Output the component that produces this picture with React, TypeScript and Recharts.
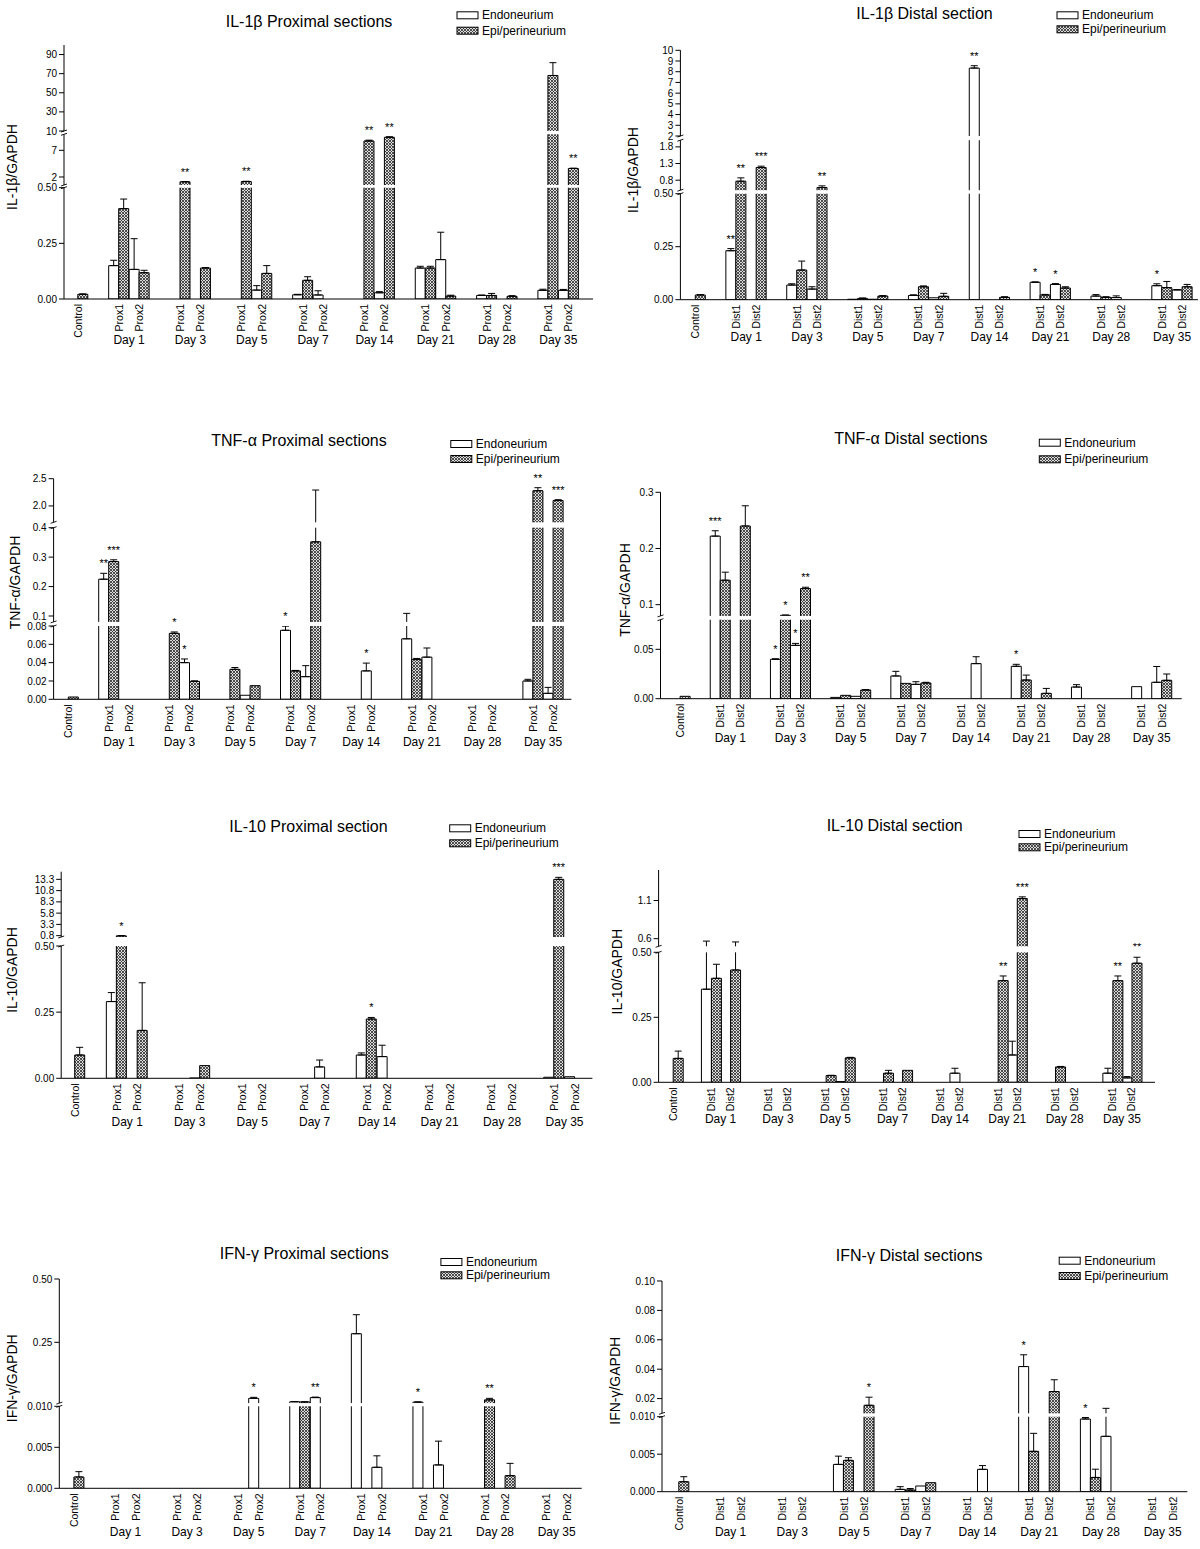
import React from "react"
import { BarChart, Bar, XAxis, YAxis, ErrorBar, LabelList } from "recharts"

const FONT = '"Liberation Sans", Arial, Helvetica, sans-serif'
const _ = null

const days = ["Day 1", "Day 3", "Day 5", "Day 7", "Day 14", "Day 21", "Day 28", "Day 35"]

// order of every series: Control, D1-1, D1-2, D3-1, D3-2, D5-1, D5-2, D7-1, D7-2,
// D14-1, D14-2, D21-1, D21-2, D28-1, D28-2, D35-1, D35-2

// IL-1β proximal
const il1bProxEndo = [_, 0.15, 0.133, _, _, _, 0.04, 0.019, 0.018, _, 0.028, 0.139, 0.177, 0.016, _, 0.039, 0.039]
const il1bProxEndoErr = [_, 0.024, 0.138, _, _, _, 0.02, 0.002, 0.019, _, 0.005, 0.008, 0.123, 0.002, _, 0.005, 0.004]
const il1bProxEndoSig = ["", "", "", "", "", "", "", "", "", "", "", "", "", "", "", "", ""]
const il1bProxEpi = [0.021, 0.406, 0.118, 1.1, 0.139, 1.15, 0.115, 0.084, _, 8.75, 9.44, 0.139, 0.013, 0.016, 0.012, 68.1, 3.6]
const il1bProxEpiErr = [0.002, 0.043, 0.011, 0.05, 0.002, 0.05, 0.035, 0.016, _, 0.15, 0.1, 0.008, 0.004, 0.009, 0.003, 13.4, 0.05]
const il1bProxEpiSig = ["", "", "", "**", "", "**", "", "", "", "**", "**", "", "", "", "", "", "**"]

// IL-1β distal
const il1bDistEndo = [_, 0.231, _, 0.069, 0.05, 0.002, 0.002, 0.02, 0.009, 8.34, _, 0.082, 0.072, 0.017, 0.01, 0.066, 0.046]
const il1bDistEndoErr = [_, 0.01, _, 0.006, 0.011, _, _, 0.003, _, 0.22, _, 0.002, 0.004, 0.007, 0.008, 0.009, 0.002]
const il1bDistEndoSig = ["", "**", "", "", "", "", "", "", "", "**", "", "*", "*", "", "", "*", ""]
const il1bDistEpi = [0.022, 0.77, 1.18, 0.14, 0.58, 0.006, 0.017, 0.061, 0.016, _, 0.011, 0.022, 0.055, 0.011, _, 0.057, 0.061]
const il1bDistEpiErr = [0.002, 0.1, 0.04, 0.042, 0.05, 0.002, 0.002, 0.004, 0.014, _, 0.003, 0.003, 0.006, 0.003, _, 0.029, 0.011]
const il1bDistEpiSig = ["", "**", "***", "", "**", "", "", "", "", "", "", "", "", "", "", "", ""]

// TNF-α proximal
const tnfProxEndo = [_, 0.225, _, _, 0.04, _, 0.0044, 0.0753, 0.0247, _, 0.031, 0.066, 0.046, _, _, 0.02, 0.0065]
const tnfProxEndoErr = [_, 0.02, _, _, 0.004, _, _, 0.0045, 0.012, _, 0.0085, 0.043, 0.01, _, _, 0.0018, 0.0065]
const tnfProxEndoSig = ["", "**", "", "", "*", "", "", "*", "", "", "*", "", "", "", "", "", ""]
const tnfProxEpi = [0.0025, 0.285, _, 0.072, 0.0196, 0.0327, 0.0149, 0.031, 0.352, _, _, 0.0436, _, _, _, 2.28, 2.1]
const tnfProxEpiErr = [_, 0.006, _, 0.0015, 0.0005, 0.002, _, 0.0005, 1.94, _, _, 0.001, _, _, _, 0.055, 0.015]
const tnfProxEpiSig = ["", "***", "", "*", "", "", "", "", "", "", "", "", "", "", "", "**", "***"]

// TNF-α distal
const tnfDistEndo = [_, 0.222, _, 0.0399, 0.054, 0.0013, 0.0024, 0.023, 0.0145, _, 0.0355, 0.0328, _, 0.0118, _, 0.0122, 0.0166]
const tnfDistEndoErr = [_, 0.0095, _, 0.0005, 0.002, _, _, 0.0047, 0.0027, _, 0.007, 0.002, _, 0.0024, _, _, 0.016]
const tnfDistEndoSig = ["", "***", "", "*", "*", "", "", "", "", "", "", "*", "", "", "", "", ""]
const tnfDistEpi = [0.0024, 0.1435, 0.24, 0.081, 0.1286, 0.0034, 0.0088, 0.0155, 0.0159, _, _, 0.0189, 0.0054, _, _, _, 0.0186]
const tnfDistEpiErr = [_, 0.0143, 0.036, 0.0005, 0.0024, _, 0.0003, _, 0.0007, _, _, 0.005, 0.005, _, _, _, 0.0064]
const tnfDistEpiSig = ["", "", "", "*", "**", "", "", "", "", "", "", "", "", "", "", "", ""]

// IL-10 proximal
const il10ProxEndo = [_, 0.29, _, _, 0.001, _, _, _, 0.043, 0.088, 0.082, _, _, _, _, 0.004, 0.006]
const il10ProxEndoErr = [_, 0.034, _, _, _, _, _, _, 0.026, 0.008, 0.043, _, _, _, _, _, _]
const il10ProxEndoSig = ["", "", "", "", "", "", "", "", "", "", "", "", "", "", "", "", ""]
const il10ProxEpi = [0.088, 0.75, 0.181, _, 0.048, _, _, _, _, 0.224, _, _, _, _, _, 13.3, _]
const il10ProxEpiErr = [0.029, 0.05, 0.18, _, _, _, _, _, _, 0.006, _, _, _, _, _, 0.45, _]
const il10ProxEpiSig = ["", "*", "", "", "", "", "", "", "", "*", "", "", "", "", "", "***", ""]

// IL-10 distal
const il10DistEndo = [_, 0.358, _, _, _, _, 0.003, _, _, _, 0.035, _, 0.105, _, _, 0.035, 0.017]
const il10DistEndoErr = [_, 0.21, _, _, _, _, _, _, _, _, 0.019, _, 0.053, _, _, 0.019, 0.005]
const il10DistEndoSig = ["", "", "", "", "", "", "", "", "", "", "", "", "", "", "", "", ""]
const il10DistEpi = [0.092, 0.4, 0.432, _, _, 0.026, 0.094, 0.035, 0.046, _, _, 0.391, 1.126, 0.059, _, 0.391, 0.458]
const il10DistEpiErr = [0.028, 0.054, 0.125, _, _, 0.001, 0.002, 0.011, _, _, _, 0.018, 0.022, 0.002, _, 0.018, 0.023]
const il10DistEpiSig = ["", "", "", "", "", "", "", "", "", "", "", "**", "***", "", "", "**", "**"]

// IFN-γ proximal
const ifnProxEndo = [_, _, _, _, _, _, 0.0288, 0.0153, 0.0317, 0.284, 0.00256, 0.0137, 0.00285, _, _, _, _]
const ifnProxEndoErr = [_, _, _, _, _, _, 0.004, 0.0005, 0.002, 0.075, 0.0014, 0.001, 0.0029, _, _, _, _]
const ifnProxEndoSig = ["", "", "", "", "", "", "*", "", "**", "", "", "*", "", "", "", "", ""]
const ifnProxEpi = [0.00138, _, _, _, _, _, _, 0.0145, _, _, _, _, _, 0.0228, 0.00154, _, _]
const ifnProxEpiErr = [0.00065, _, _, _, _, _, _, 0.0005, _, _, _, _, _, 0.006, 0.0015, _, _]
const ifnProxEpiSig = ["", "", "", "", "", "", "", "", "", "", "", "", "", "**", "", "", ""]

// IFN-γ distal
const ifnDistEndo = [_, _, _, _, _, 0.00364, _, 0.00031, 0.00076, _, 0.00298, 0.0418, _, 0.00969, 0.00738, _, _]
const ifnDistEndoErr = [_, _, _, _, _, 0.0011, _, 0.00036, _, _, 0.0005, 0.008, _, 0.0002, 0.006, _, _]
const ifnDistEndoSig = ["", "", "", "", "", "", "", "", "", "", "", "*", "", "*", "", "", ""]
const ifnDistEpi = [0.00133, _, _, _, _, 0.00418, 0.01545, 0.00022, 0.0012, _, _, 0.00538, 0.0248, 0.0019, _, _, _]
const ifnDistEpiErr = [0.00067, _, _, _, _, 0.00035, 0.0055, 0.0002, _, _, _, 0.0024, 0.008, 0.0011, _, _, _]
const ifnDistEpiSig = ["", "", "", "", "", "", "*", "", "", "", "", "", "", "", "", "", ""]

// broken y axes: value range of each piece, ticks and tick labels
const il1bProxDomains = [[0, 0.5], [0.5, 10], [10, 100]]
const il1bProxTicks = [[0, 0.25, 0.5], [2, 7], [10, 30, 50, 70, 90]]
const il1bProxTickLabels = [["0.00", "0.25", "0.50"], ["2", "7"], ["10", "30", "50", "70", "90"]]
const il1bDistDomains = [[0, 0.5], [0.5, 2], [2, 10]]
const il1bDistTicks = [[0, 0.25, 0.5], [0.8, 1.3, 1.8], [2, 3, 4, 5, 6, 7, 8, 9, 10]]
const il1bDistTickLabels = [["0.00", "0.25", "0.50"], ["0.8", "1.3", "1.8"], ["2", "3", "4", "5", "6", "7", "8", "9", "10"]]
const tnfProxDomains = [[0, 0.08], [0.08, 0.4], [1.7, 2.5]]
const tnfProxTicks = [[0, 0.02, 0.04, 0.06, 0.08], [0.1, 0.2, 0.3, 0.4], [2, 2.5]]
const tnfProxTickLabels = [["0.00", "0.02", "0.04", "0.06", "0.08"], ["0.1", "0.2", "0.3", "0.4"], ["2.0", "2.5"]]
const tnfDistDomains = [[0, 0.08], [0.08, 0.3]]
const tnfDistTicks = [[0, 0.05], [0.1, 0.2, 0.3]]
const tnfDistTickLabels = [["0.00", "0.05"], ["0.1", "0.2", "0.3"]]
const il10ProxDomains = [[0, 0.5], [0.5, 15]]
const il10ProxTicks = [[0, 0.25, 0.5], [0.8, 3.3, 5.8, 8.3, 10.8, 13.3]]
const il10ProxTickLabels = [["0.00", "0.25", "0.50"], ["0.8", "3.3", "5.8", "8.3", "10.8", "13.3"]]
const il10DistDomains = [[0, 0.5], [0.5, 1.5]]
const il10DistTicks = [[0, 0.25, 0.5], [0.6, 1.1]]
const il10DistTickLabels = [["0.00", "0.25", "0.50"], ["0.6", "1.1"]]
const ifnProxDomains = [[0, 0.01], [0.01, 0.5]]
const ifnProxTicks = [[0, 0.005, 0.01], [0.25, 0.5]]
const ifnProxTickLabels = [["0.000", "0.005", "0.010"], ["0.25", "0.50"]]
const ifnDistDomains = [[0, 0.01], [0.01, 0.1]]
const ifnDistTicks = [[0, 0.005, 0.01], [0.02, 0.04, 0.06, 0.08, 0.1]]
const ifnDistTickLabels = [["0.000", "0.005", "0.010"], ["0.02", "0.04", "0.06", "0.08", "0.10"]]

type Layout = {
  ox: number; oy: number; axisX: number; plotRight: number; plotTop: number; plotBottom: number
  padL: number; padR: number; segPx: number[][]; dayDy: number
  titleX: number; titleY: number; legX: number; legY: number[]; yLabX: number; yLabY: number
}

const panels = [
  {
    title: "IL-1β Proximal sections", yLabel: "IL-1β/GAPDH", sub: "Prox",
    endo: il1bProxEndo, endoErr: il1bProxEndoErr, endoSig: il1bProxEndoSig,
    epi: il1bProxEpi, epiErr: il1bProxEpiErr, epiSig: il1bProxEpiSig,
    domains: il1bProxDomains, ticks: il1bProxTicks, tickLabels: il1bProxTickLabels,
    layout: { ox: 0, oy: 0, axisX: 64, plotRight: 593, plotTop: 45, plotBottom: 299, padL: 3.8, padR: 14.2,
      segPx: [[0, 111.3], [114, 164.7], [168, 254]], dayDy: 41, titleX: 309, titleY: 21,
      legX: 457, legY: [15.3, 30.7], yLabX: 11.5, yLabY: 167 },
  },
  {
    title: "IL-1β Distal section", yLabel: "IL-1β/GAPDH", sub: "Dist",
    endo: il1bDistEndo, endoErr: il1bDistEndoErr, endoSig: il1bDistEndoSig,
    epi: il1bDistEpi, epiErr: il1bDistEpiErr, epiSig: il1bDistEpiSig,
    domains: il1bDistDomains, ticks: il1bDistTicks, tickLabels: il1bDistTickLabels,
    layout: { ox: 600, oy: 0, axisX: 80.4, plotRight: 598, plotTop: 50.3, plotBottom: 299.7, padL: 4.9, padR: 5.6,
      segPx: [[0, 106], [109.5, 159.5], [163.7, 249.4]], dayDy: 37, titleX: 324.5, titleY: 13,
      legX: 457, legY: [15.3, 29.3], yLabX: 32.5, yLabY: 170 },
  },
  {
    title: "TNF-α Proximal sections", yLabel: "TNF-α/GAPDH", sub: "Prox",
    endo: tnfProxEndo, endoErr: tnfProxEndoErr, endoSig: tnfProxEndoSig,
    epi: tnfProxEpi, epiErr: tnfProxEpiErr, epiSig: tnfProxEpiSig,
    domains: tnfProxDomains, ticks: tnfProxTicks, tickLabels: tnfProxTickLabels,
    layout: { ox: 0, oy: 420, axisX: 53.6, plotRight: 571.4, plotTop: 58.7, plotBottom: 279.3, padL: 4.7, padR: 8.1,
      segPx: [[0, 73.3], [77.4, 171.6], [177, 220.6]], dayDy: 42.4, titleX: 299, titleY: 20,
      legX: 450.8, legY: [24, 39], yLabX: 14.5, yLabY: 162.5 },
  },
  {
    title: "TNF-α Distal sections", yLabel: "TNF-α/GAPDH", sub: "Dist",
    endo: tnfDistEndo, endoErr: tnfDistEndoErr, endoSig: tnfDistEndoSig,
    epi: tnfDistEpi, epiErr: tnfDistEpiErr, epiSig: tnfDistEpiSig,
    domains: tnfDistDomains, ticks: tnfDistTicks, tickLabels: tnfDistTickLabels,
    layout: { ox: 600, oy: 420, axisX: 60.5, plotRight: 581.7, plotTop: 72.3, plotBottom: 278.7, padL: 9.6, padR: 9.9,
      segPx: [[0, 79], [82.8, 206.4]], dayDy: 39.6, titleX: 310.8, titleY: 18.3,
      legX: 439.3, legY: [22.7, 39.3], yLabX: 24.9, yLabY: 170 },
  },
  {
    title: "IL-10 Proximal section", yLabel: "IL-10/GAPDH", sub: "Prox",
    endo: il10ProxEndo, endoErr: il10ProxEndoErr, endoSig: il10ProxEndoSig,
    epi: il10ProxEpi, epiErr: il10ProxEpiErr, epiSig: il10ProxEpiSig,
    domains: il10ProxDomains, ticks: il10ProxTicks, tickLabels: il10ProxTickLabels,
    layout: { ox: 0, oy: 810, axisX: 61.2, plotRight: 592.4, plotTop: 61.7, plotBottom: 268.3, padL: 3.5, padR: 7,
      segPx: [[0, 132.3], [141.3, 206.6]], dayDy: 44, titleX: 308.5, titleY: 16.7,
      legX: 449.7, legY: [18.3, 33.3], yLabX: 11.5, yLabY: 160 },
  },
  {
    title: "IL-10 Distal section", yLabel: "IL-10/GAPDH", sub: "Dist",
    endo: il10DistEndo, endoErr: il10DistEndoErr, endoSig: il10DistEndoSig,
    epi: il10DistEpi, epiErr: il10DistEpiErr, epiSig: il10DistEpiSig,
    domains: il10DistDomains, ticks: il10DistTicks, tickLabels: il10DistTickLabels,
    layout: { ox: 600, oy: 810, axisX: 58.6, plotRight: 555, plotTop: 60, plotBottom: 272.3, padL: 4.6, padR: 13.9,
      segPx: [[0, 130], [136, 212.3]], dayDy: 37, titleX: 294.7, titleY: 15,
      legX: 419, legY: [24, 37.3], yLabX: 17.2, yLabY: 161.7 },
  },
  {
    title: "IFN-γ Proximal sections", yLabel: "IFN-γ/GAPDH", sub: "Prox",
    endo: ifnProxEndo, endoErr: ifnProxEndoErr, endoSig: ifnProxEndoSig,
    epi: ifnProxEpi, epiErr: ifnProxEpiErr, epiSig: ifnProxEpiSig,
    domains: ifnProxDomains, ticks: ifnProxTicks, tickLabels: ifnProxTickLabels,
    layout: { ox: 0, oy: 1230, axisX: 59.3, plotRight: 581.7, plotTop: 49, plotBottom: 258.3, padL: 4.6, padR: 4.5,
      segPx: [[0, 82], [85.2, 209.3]], dayDy: 43.4, titleX: 304.3, titleY: 23.3,
      legX: 440.9, legY: [32, 45.3], yLabX: 11.5, yLabY: 148.3 },
  },
  {
    title: "IFN-γ Distal sections", yLabel: "IFN-γ/GAPDH", sub: "Dist",
    endo: ifnDistEndo, endoErr: ifnDistEndoErr, endoSig: ifnDistEndoSig,
    epi: ifnDistEpi, epiErr: ifnDistEpiErr, epiSig: ifnDistEpiSig,
    domains: ifnDistDomains, ticks: ifnDistTicks, tickLabels: ifnDistTickLabels,
    layout: { ox: 600, oy: 1230, axisX: 62, plotRight: 587.4, plotTop: 51, plotBottom: 261.7, padL: 6.8, padR: 4.1,
      segPx: [[0, 75], [78.4, 210.7]], dayDy: 40, titleX: 309.2, titleY: 25,
      legX: 459.2, legY: [30.7, 46], yLabX: 15.3, yLabY: 150.8 },
  },
]

type Seg = { lo: number; hi: number; p0: number; p1: number }

const segMap = (s: Seg, v: number) => s.p0 + ((v - s.lo) / (s.hi - s.lo)) * (s.p1 - s.p0)

function toAxis(segs: Seg[], v: number) {
  for (const s of segs) if (v <= s.hi) return segMap(s, Math.max(v, s.lo))
  return segs[segs.length - 1].p1
}

function SigLabel(props: any) {
  const raw = props.value
  if (!raw) return null
  const [sig, errPx] = String(raw).split("|")
  const vb = props.viewBox || props
  const x = vb.x + vb.width / 2
  const y = vb.y - Number(errPx) - 6
  return (
    <text x={x} y={y} textAnchor="middle" fontSize={11} fill="#000" fontFamily={FONT}>
      {sig}
    </text>
  )
}

function Panel({ p }: { p: any }) {
  const L: Layout = p.layout
  const H = L.plotBottom - L.plotTop
  const segs: Seg[] = p.domains.map((d: number[], i: number) => ({ lo: d[0], hi: d[1], p0: L.segPx[i][0], p1: L.segPx[i][1] }))

  const rows: any[] = []
  const add = (key: string, idx: number | null, label: string, day: string) => {
    const row: any = { key, label, day }
    if (idx !== null) {
      for (const s of ["endo", "epi"]) {
        const v = p[s][idx]
        const e = p[s + "Err"][idx]
        const sig = p[s + "Sig"][idx]
        if (v == null) continue
        const t = toAxis(segs, v)
        row[s] = t
        const ep = e ? toAxis(segs, v + e) - t : 0
        if (e) row[s + "E"] = [0, ep]
        if (sig) row[s + "Sig"] = `${sig}|${ep}`
      }
    }
    rows.push(row)
  }
  add("ctrl", 0, "Control", "")
  days.forEach((d, i) => {
    add(`gap${i}`, null, "", "")
    add(`${d}-1`, 1 + i * 2, `${p.sub}1`, "")
    add(`${d}-2`, 2 + i * 2, `${p.sub}2`, d)
  })

  const tickVals: number[] = []
  const tickText = new Map<number, string>()
  p.ticks.forEach((arr: number[], i: number) =>
    arr.forEach((t, j) => {
      const px = segMap(segs[i], t)
      tickVals.push(px)
      tickText.set(Math.round(px * 100), p.tickLabels[i][j])
    })
  )

  const band = (L.plotRight - L.axisX - L.padL - L.padR) / rows.length
  const chartH = L.plotBottom + 60

  const XTick = (props: any) => {
    const { x, y, payload } = props
    const row = rows.find((r) => r.key === payload.value)
    if (!row) return <g />
    return (
      <g fontFamily={FONT} fill="#000">
        {row.label ? (
          <text transform={`translate(${x + 3.8},${y + 5}) rotate(-90)`} textAnchor="end" fontSize={10.5}>
            {row.label}
          </text>
        ) : null}
        {row.day ? (
          <text x={x - band / 2} y={y + L.dayDy + 4} textAnchor="middle" fontSize={12}>
            {row.day}
          </text>
        ) : null}
      </g>
    )
  }

  const yAt = (px: number) => L.plotBottom - px

  return (
    <div style={{ position: "absolute", left: L.ox, top: L.oy, width: 600, height: chartH }}>
      <BarChart
        width={600}
        height={chartH}
        data={rows}
        margin={{ top: L.plotTop, right: 600 - L.plotRight, bottom: 0, left: 0 }}
        barGap={0}
        barCategoryGap={0}
      >
        <XAxis
          dataKey="key"
          type="category"
          interval={0}
          tickLine={false}
          tickSize={0}
          tickMargin={0}
          height={60}
          padding={{ left: L.padL, right: L.padR }}
          axisLine={{ stroke: "#000" }}
          tick={XTick}
        />
        <YAxis
          type="number"
          domain={[0, H]}
          allowDataOverflow
          ticks={tickVals}
          interval={0}
          tickFormatter={(v: number) => tickText.get(Math.round(v * 100)) ?? ""}
          width={L.axisX}
          axisLine={false}
          tickLine={{ stroke: "#000" }}
          tickSize={5}
          tickMargin={2}
          tick={{ fontSize: 10, fill: "#000", fontFamily: FONT }}
        />
        <Bar dataKey="endo" fill="#ffffff" stroke="#000" strokeWidth={1} isAnimationActive={false}>
          <ErrorBar dataKey="endoE" direction="y" width={3.5} stroke="#000" strokeWidth={1} />
          <LabelList dataKey="endoSig" content={SigLabel} />
        </Bar>
        <Bar dataKey="epi" fill="url(#hatch)" stroke="#000" strokeWidth={1} isAnimationActive={false}>
          <ErrorBar dataKey="epiE" direction="y" width={3.5} stroke="#000" strokeWidth={1} />
          <LabelList dataKey="epiSig" content={SigLabel} />
        </Bar>
      </BarChart>
      <svg
        width={600}
        height={chartH}
        style={{ position: "absolute", left: 0, top: 0, pointerEvents: "none" }}
        fontFamily={FONT}
      >
        {segs.slice(1).map((s, i) => (
          <rect
            key={`gap${i}`}
            x={L.axisX + 0.5}
            y={yAt(s.p0)}
            width={L.plotRight - L.axisX}
            height={s.p0 - segs[i].p1}
            fill="#fff"
          />
        ))}
        {segs.map((s, i) => (
          <line key={`ax${i}`} x1={L.axisX} x2={L.axisX} y1={yAt(s.p0)} y2={yAt(s.p1)} stroke="#000" />
        ))}
        {segs.slice(1).map((s, i) => (
          <g key={`brk${i}`} stroke="#000" strokeWidth={0.9}>
            <line x1={L.axisX - 3} x2={L.axisX + 3} y1={yAt(segs[i].p1) + 1} y2={yAt(segs[i].p1) - 1} />
            <line x1={L.axisX - 3} x2={L.axisX + 3} y1={yAt(s.p0) + 1} y2={yAt(s.p0) - 1} />
          </g>
        ))}
        <text x={L.titleX} y={L.titleY + 5.5} textAnchor="middle" fontSize={16} fill="#000">
          {p.title}
        </text>
        <text
          transform={`translate(${L.yLabX + 5},${L.yLabY}) rotate(-90)`}
          textAnchor="middle"
          fontSize={14}
          fill="#000"
        >
          {p.yLabel}
        </text>
        <rect x={L.legX} y={L.legY[0] - 3.5} width={21} height={7} fill="#fff" stroke="#000" />
        <rect x={L.legX} y={L.legY[1] - 3.5} width={21} height={7} fill="url(#hatch)" stroke="#000" />
        <text x={L.legX + 25} y={L.legY[0] + 4} fontSize={12} fill="#000">
          Endoneurium
        </text>
        <text x={L.legX + 25} y={L.legY[1] + 4} fontSize={12} fill="#000">
          Epi/perineurium
        </text>
      </svg>
    </div>
  )
}

export default function App() {
  return (
    <div style={{ position: "absolute", left: 0, top: 0, width: 1200, height: 1549, background: "#fff", fontFamily: FONT }}>
      <svg width={0} height={0} style={{ position: "absolute" }}>
        <defs>
          <pattern id="hatch" patternUnits="userSpaceOnUse" width={3} height={3}>
            <rect width={3} height={3} fill="#dcdcdc" />
            <path d="M0,0 L3,3 M3,0 L0,3" stroke="#333" strokeWidth={0.85} />
          </pattern>
        </defs>
      </svg>
      {panels.map((p, i) => (
        <Panel key={i} p={p} />
      ))}
    </div>
  )
}
